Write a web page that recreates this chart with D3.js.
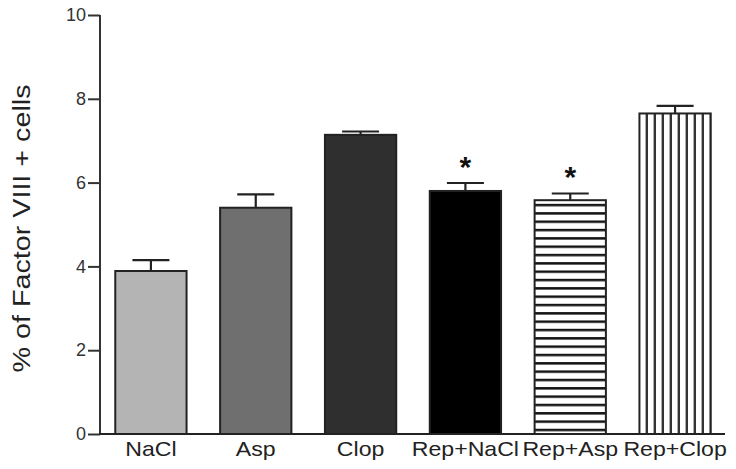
<!DOCTYPE html>
<html>
<head>
<meta charset="utf-8">
<script src="https://cdn.jsdelivr.net/npm/d3@7"></script>
<style>
  html, body { margin: 0; padding: 0; background: #fff; }
  svg { display: block; font-family: "Liberation Sans", Arial, sans-serif; }
</style>
</head>
<body>
<svg id="chart" width="736" height="469"></svg>
<script>
const categories = ["NaCl", "Asp", "Clop", "Rep+NaCl", "Rep+Asp", "Rep+Clop"];
const means = [3.89, 5.40, 7.14, 5.80, 5.58, 7.65];
const sems = [0.26, 0.32, 0.08, 0.19, 0.16, 0.18];
const significance = ["", "", "", "*", "*", ""];
const yTicks = [0, 2, 4, 6, 8, 10];
const yTitle = "% of Factor VIII + cells";

const fills = ["#b4b4b4", "#6f6f6f", "#2f2f2f", "#000000", "url(#hstripe)", "url(#vstripe)"];

const svg = d3.select("#chart");
const defs = svg.append("defs");

const hp = defs.append("pattern").attr("id", "hstripe")
  .attr("patternUnits", "userSpaceOnUse").attr("x", 0).attr("y", 3.9)
  .attr("width", 8).attr("height", 8.33);
hp.append("rect").attr("width", 8).attr("height", 8.33).attr("fill", "#fff");
hp.append("rect").attr("y", 0).attr("width", 8).attr("height", 2.5).attr("fill", "#151515");

const vp = defs.append("pattern").attr("id", "vstripe")
  .attr("patternUnits", "userSpaceOnUse").attr("x", 0).attr("y", 0)
  .attr("width", 8).attr("height", 8);
vp.append("rect").attr("width", 8).attr("height", 8).attr("fill", "#fff");
vp.append("rect").attr("x", 5.6).attr("width", 2.8).attr("height", 8).attr("fill", "#333");

const x = d3.scaleBand().domain(categories).range([98.5, 727.5])
  .paddingInner(0.32).paddingOuter(0.16);
const y = d3.scaleLinear().domain([0, 10]).range([434, 15]);

const data = categories.map((c, i) => ({ c, m: means[i], s: sems[i], sig: significance[i], fill: fills[i] }));

// bars
svg.append("g").selectAll("rect").data(data).join("rect")
  .attr("x", d => x(d.c))
  .attr("y", d => y(d.m))
  .attr("width", x.bandwidth())
  .attr("height", d => y(0) - y(d.m))
  .attr("fill", d => d.fill)
  .attr("stroke", "#222")
  .attr("stroke-width", 2);

// error bars
const capW = 37;
const eg = svg.append("g").attr("stroke", "#222").attr("stroke-width", 2.2);
data.forEach(d => {
  const cx = x(d.c) + x.bandwidth() / 2;
  eg.append("line").attr("x1", cx).attr("x2", cx).attr("y1", y(d.m)).attr("y2", y(d.m + d.s));
  eg.append("line").attr("x1", cx - capW / 2).attr("x2", cx + capW / 2).attr("y1", y(d.m + d.s)).attr("y2", y(d.m + d.s));
});

// significance stars
svg.append("g").selectAll("text").data(data.filter(d => d.sig)).join("text")
  .attr("x", d => x(d.c) + x.bandwidth() / 2)
  .attr("y", d => y(d.m + d.s) - 6)
  .attr("text-anchor", "middle")
  .attr("font-size", 30)
  .attr("font-weight", "bold")
  .attr("fill", "#111")
  .text(d => d.sig);

// y axis
const yAxis = d3.axisLeft(y).tickValues(yTicks).tickSize(12).tickPadding(2).tickFormat(d3.format("d"));
const ya = svg.append("g").attr("transform", "translate(100,0)").call(yAxis);
ya.select(".domain").attr("stroke", "#333").attr("stroke-width", 2).attr("d", `M0,${y(10)}V${y(0)}`);
ya.selectAll(".tick line").attr("stroke", "#333").attr("stroke-width", 2);
ya.selectAll(".tick text").attr("font-size", 18).attr("fill", "#333")
  .attr("font-family", "Liberation Sans, Arial, sans-serif");

// x axis
svg.append("line").attr("x1", 99).attr("x2", 725).attr("y1", y(0)).attr("y2", y(0))
  .attr("stroke", "#222").attr("stroke-width", 2);

const xl = svg.append("g").selectAll("text").data(categories).join("text")
  .attr("x", d => x(d) + x.bandwidth() / 2)
  .attr("y", 456)
  .attr("text-anchor", "middle")
  .attr("font-size", 21)
  .attr("fill", "#222")
  .text(d => d);
xl.each(function() {
  const L = this.getComputedTextLength();
  d3.select(this).attr("textLength", L * 1.1).attr("lengthAdjust", "spacingAndGlyphs");
});

// y title
svg.append("text")
  .attr("transform", "translate(30,228.5) rotate(-90)")
  .attr("text-anchor", "middle")
  .attr("font-size", 23.5)
  .attr("fill", "#222")
  .attr("textLength", 288)
  .attr("lengthAdjust", "spacingAndGlyphs")
  .text(yTitle);
</script>
</body>
</html>
